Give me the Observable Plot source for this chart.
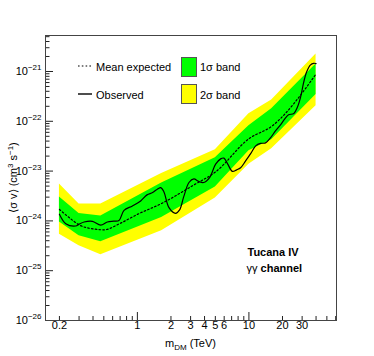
<!DOCTYPE html>
<html><head><meta charset="utf-8">
<script src="https://cdn.jsdelivr.net/npm/d3@7"></script>
<script src="https://cdn.jsdelivr.net/npm/@observablehq/plot@0.6"></script>
<style>body{margin:0;background:#fff;} svg{display:block;}</style>
</head><body><div id="chart"></div>
<script>
// ---- data ----
const bandMass   = [0.2, 0.3, 0.47, 1.65, 5, 10, 16, 40];               // TeV
const yellowHigh = [5.5e-24, 2.19e-24, 2.19e-24, 8.9e-24, 2.69e-23, 1.41e-22, 2.69e-22, 2.24e-21];
const greenHigh  = [3.02e-24, 1.41e-24, 1.26e-24, 5.75e-24, 1.86e-23, 8.13e-23, 1.78e-22, 1.41e-21];
const greenLow   = [9.55e-25, 5.01e-25, 3.8e-25, 1.17e-24, 4.79e-24, 2.57e-23, 4.27e-23, 3.47e-22];
const yellowLow  = [5.37e-25, 3.16e-25, 2.09e-25, 6.31e-25, 2.88e-24, 1.38e-23, 2.82e-23, 2.04e-22];

const expMass  = [0.2, 0.25, 0.3, 0.4, 0.5, 0.7, 1, 1.65, 3.2, 5, 10, 16, 40];
const expValue = [1.7e-24, 1.12e-24, 8.32e-25, 6.92e-25, 6.61e-25, 8.91e-25, 1.35e-24, 2.24e-24, 5.25e-24, 9.55e-24, 4.47e-23, 7.94e-23, 8.91e-22];

const obsMass  = [0.2, 0.228, 0.28, 0.3, 0.333, 0.395, 0.469, 0.538, 0.613, 0.684, 0.759, 0.902, 1.07, 1.22, 1.37, 1.52, 1.62, 1.73, 1.92, 2.2, 2.39, 2.6, 2.9, 3.21, 3.54, 3.93, 4.44, 5.03, 5.58, 5.97, 6.44, 7.1, 7.76, 8.43, 9.34, 10.4, 11.5, 12.7, 14.1, 15.6, 17.3, 19.2, 21.3, 22.7, 25.3, 27.3, 29.1, 30.9, 32.9, 35.7, 38.0, 40];
const obsValue = [1.36e-24, 8.8e-25, 7.9e-25, 8.6e-25, 9.5e-25, 9.8e-25, 8.2e-25, 9.5e-25, 9.9e-25, 1.02e-24, 1.63e-24, 2.0e-24, 2.52e-24, 3.33e-24, 3.7e-24, 4.39e-24, 4.67e-24, 3.82e-24, 1.85e-24, 1.42e-24, 1.66e-24, 3.03e-24, 5.9e-24, 6.97e-24, 6.2e-24, 5.9e-24, 7.4e-24, 1.38e-23, 1.76e-23, 1.82e-23, 1.4e-23, 9.9e-24, 1.06e-23, 1.17e-23, 1.6e-23, 2.26e-23, 3.21e-23, 3.6e-23, 3.68e-23, 4.65e-23, 6.4e-23, 8.5e-23, 1.17e-22, 1.35e-22, 1.44e-22, 1.95e-22, 3.09e-22, 5.9e-22, 9.8e-22, 1.36e-21, 1.46e-21, 1.44e-21];

const xTickLabels = [0.2, 1, 2, 3, 4, 5, 6, 10, 20, 30];
const xMajorTicks = [1, 10];
const xMinorTicks = [0.2,0.3,0.4,0.5,0.6,0.7,0.8,0.9, 2,3,4,5,6,7,8,9, 20,30,40,50,60];
const yMajorTicks = [1e-26, 1e-25, 1e-24, 1e-23, 1e-22, 1e-21];
const yMinorTicks = [-26,-25,-24,-23,-22,-21].flatMap(k => [2,3,4,5,6,7,8,9].map(d => d * Math.pow(10, k))).filter(v => v < 5.28e-21);

const legendItems = ["Mean expected", "Observed", "1σ band", "2σ band"];
const annotation = ["Tucana IV", "γγ", " channel"];

// ---- layout ----
const W = 374, H = 356, mL = 45, mR = 38, mT = 35, mB = 36;
const pw = W - mL - mR, ph = H - mT - mB;
const FONT = "'Liberation Sans', Arial, Helvetica, sans-serif";

const band = bandMass.map((m, i) => ({m, yl: yellowLow[i], gl: greenLow[i], gh: greenHigh[i], yh: yellowHigh[i]}));
const expected = expMass.map((m, i) => ({m, v: expValue[i]}));
const observed = obsMass.map((m, i) => ({m, v: obsValue[i]}));

const chart = Plot.plot({
  width: W, height: H,
  marginLeft: mL, marginRight: mR, marginTop: mT, marginBottom: mB,
  style: {fontFamily: FONT, fontSize: "11px", background: "#fff", color: "#000"},
  x: {type: "log", domain: [0.15, 61], axis: null, label: null},
  y: {type: "log", domain: [1e-26, 5.28e-21], label: null},
  marks: [
    Plot.areaY(band, {x: "m", y1: "yl", y2: "yh", fill: "#ffff00"}),
    Plot.areaY(band, {x: "m", y1: "gl", y2: "gh", fill: "#00ff00"}),
    Plot.line(expected, {x: "m", y: "v", stroke: "#000", strokeWidth: 1.2, strokeDasharray: "1.6,2.2", curve: "monotone-x"}),
    Plot.line(observed, {x: "m", y: "v", stroke: "#000", strokeWidth: 1.2, curve: "catmull-rom"}),
    Plot.tickX(xMinorTicks, {x: d => d, insetTop: ph - 4, stroke: "#222"}),
    Plot.tickX(xMajorTicks, {x: d => d, insetTop: ph - 8, stroke: "#222"}),
    Plot.tickY(yMinorTicks, {y: d => d, insetRight: pw - 4.5, stroke: "#222"}),
    Plot.tickY(yMajorTicks, {y: d => d, insetRight: pw - 8, stroke: "#222"}),
    Plot.text(xTickLabels, {x: d => d, frameAnchor: "bottom", dy: 8.5, text: d => String(d), fontSize: 11, fill: "#000"}),
    Plot.axisY(yMajorTicks, {tickSize: 0, tickPadding: 4, tickFormat: d => "10^" + Math.round(Math.log10(d)), label: null, fontSize: 11}),
    Plot.frame({stroke: "#444"})
  ]
});
document.getElementById("chart").appendChild(chart);

const svg = d3.select(chart);
// superscript exponents on y tick labels
svg.selectAll('g[aria-label="y-axis tick label"] text').each(function() {
  const t = d3.select(this);
  const s = t.text();
  const [base, exp] = s.split("^");
  t.text(null);
  t.append("tspan").text(base);
  t.append("tspan").attr("dy", -5).attr("font-size", 8).text(exp.replace("-", "−"));
});

// axis titles
const yl = svg.append("text")
  .attr("transform", `translate(17,${mT + ph / 2}) rotate(-90)`)
  .attr("text-anchor", "middle").attr("font-family", FONT).attr("font-size", 11);
yl.append("tspan").text("⟨σ v⟩ (cm");
yl.append("tspan").attr("dy", -4).attr("font-size", 8).text("3");
yl.append("tspan").attr("dy", 4).text(" s");
yl.append("tspan").attr("dy", -4).attr("font-size", 8).text("−1");
yl.append("tspan").attr("dy", 4).text(")");

const xl = svg.append("text")
  .attr("x", mL + pw / 2).attr("y", 346.5)
  .attr("text-anchor", "middle").attr("font-family", FONT).attr("font-size", 11);
xl.append("tspan").text("m");
xl.append("tspan").attr("dy", 3).attr("font-size", 8).text("DM");
xl.append("tspan").attr("dy", -3).text(" (TeV)");

// legend
const lg = svg.append("g").attr("font-family", FONT).attr("font-size", 11).attr("text-anchor", "start");
lg.append("line").attr("x1", 78).attr("x2", 92).attr("y1", 66).attr("y2", 66)
  .attr("stroke", "#000").attr("stroke-width", 1.2).attr("stroke-dasharray", "1.6,2.2");
lg.append("line").attr("x1", 78).attr("x2", 92).attr("y1", 94).attr("y2", 94)
  .attr("stroke", "#000").attr("stroke-width", 1.4);
lg.append("text").attr("x", 96).attr("y", 70.5).text(legendItems[0]);
lg.append("text").attr("x", 96).attr("y", 98.5).text(legendItems[1]);
lg.append("rect").attr("x", 181.5).attr("y", 57.5).attr("width", 15).attr("height", 19)
  .attr("fill", "#00ff00").attr("stroke", "#555");
lg.append("rect").attr("x", 181.5).attr("y", 84.5).attr("width", 15).attr("height", 19)
  .attr("fill", "#ffff00").attr("stroke", "#555");
lg.append("text").attr("x", 200).attr("y", 71).text(legendItems[2]);
lg.append("text").attr("x", 200).attr("y", 98.5).text(legendItems[3]);

// annotation
const an = svg.append("g").attr("font-family", FONT).attr("font-size", 11).attr("text-anchor", "start");
an.append("text").attr("x", 247.5).attr("y", 255.5).attr("font-weight", "bold").text(annotation[0]);
const an2 = an.append("text").attr("x", 246.5).attr("y", 271.5);
an2.append("tspan").text(annotation[1]);
an2.append("tspan").attr("font-weight", "bold").text(annotation[2]);
</script>
</body></html>
